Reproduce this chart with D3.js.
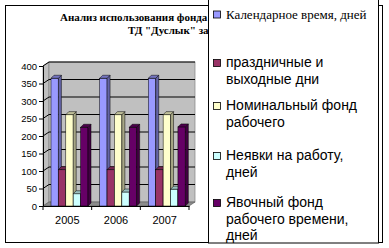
<!doctype html>
<html>
<head>
<meta charset="UTF-8">
<title>chart</title>
<script src="https://d3js.org/d3.v7.min.js"></script>
<style>
  body { margin: 0; background: #fff; }
  svg { display: block; }
</style>
</head>
<body>
<script>
// data
var years = ["2005", "2006", "2007"];
var calendar = [365, 365, 365];
var holidays = [104, 104, 104];
var nominal = [261, 261, 261];
var absent = [35, 40, 48];
var attendance = [225, 225, 226];
var yTicks = [0, 50, 100, 150, 200, 250, 300, 350, 400];

var seriesValues = [calendar, holidays, nominal, absent, attendance];
var seriesColors = ["#9999ff", "#993366", "#ffffcc", "#ccffff", "#660066"];
// legend lines (wrapped like the original)
var legendLines = [["Календарное время, дней"],
                   ["праздничные и", "выходные дни"],
                   ["Номинальный фонд", "рабочего"],
                   ["Неявки на работу,", "дней"],
                   ["Явочный фонд", "рабочего времени,", "дней"]];
// visible part of the title (the rest is hidden behind the legend)
var titleLines = ["Анализ использования фонда", "ТД \"Дуслык\" за"];

var W = 389, H = 248;
var svg = d3.select("body").append("svg").attr("width", W).attr("height", H);

svg.append("clipPath").attr("id", "titleClip")
  .append("rect").attr("x", 0).attr("y", 0).attr("width", 208).attr("height", 60);

// outer chart frame
svg.append("rect").attr("x", 5.5).attr("y", 5.5).attr("width", 377).attr("height", 237)
   .attr("fill", "#fff").attr("stroke", "#000");

// title
var tg = svg.append("g").attr("clip-path", "url(#titleClip)")
  .attr("font-family", "Liberation Serif").attr("font-weight", "bold").attr("font-size", 11);
tg.append("text").attr("x", 60).attr("y", 21).text(titleLines[0]);
tg.append("text").attr("x", 128).attr("y", 34).text(titleLines[1]);

var y = d3.scaleLinear().domain([0, 400]).range([206, 66]);
var x0 = d3.scaleBand().domain(years).range([43, 189]);
var x1 = d3.scaleBand().domain(d3.range(seriesValues.length)).range([8, 45]);

var dx = 6, dy = -4;     // wall depth
var bdx = 3, bdy = -3;   // bar depth
var left = x0.range()[0], right = x0.range()[1];
var y0 = y(0), yTop = y(400);

var g = svg.append("g");

// left wall
g.append("polygon")
  .attr("points", [[left, y0], [left + dx, y0 + dy], [left + dx, yTop + dy], [left, yTop]].join(" "))
  .attr("fill", "#c0c0c0").attr("stroke", "#808080").attr("stroke-width", 0.7);
// back wall
g.append("rect").attr("x", left + dx).attr("y", yTop + dy)
  .attr("width", right - left).attr("height", y0 - yTop)
  .attr("fill", "#c0c0c0").attr("stroke", "#808080").attr("stroke-width", 0.7);
// floor
g.append("polygon")
  .attr("points", [[left, y0], [right, y0], [right + dx, y0 + dy], [left + dx, y0 + dy]].join(" "))
  .attr("fill", "#8c8c8c").attr("stroke", "#606060").attr("stroke-width", 0.7);

// gridlines
yTicks.forEach(function(t) {
  if (t === 0) return;
  var yy = y(t);
  g.append("polyline")
    .attr("points", [[left, yy], [left + dx, yy + dy], [right + dx, yy + dy]].join(" "))
    .attr("fill", "none").attr("stroke", "#000").attr("stroke-width", 1);
});

// bars
years.forEach(function(yr, i) {
  seriesValues.forEach(function(vals, s) {
    var c = d3.color(seriesColors[s]);
    var bx = x0(yr) + x1(s), bw = x1.bandwidth(), by = y(vals[i]), bb = y0;
    // front
    g.append("rect").attr("x", bx).attr("y", by).attr("width", bw).attr("height", bb - by)
      .attr("fill", c).attr("stroke", "#000").attr("stroke-width", 0.5);
    // side
    g.append("polygon")
      .attr("points", [[bx + bw, bb], [bx + bw + bdx, bb + bdy], [bx + bw + bdx, by + bdy], [bx + bw, by]].join(" "))
      .attr("fill", c.darker(1.2)).attr("stroke", "#000").attr("stroke-width", 0.5);
    // top
    g.append("polygon")
      .attr("points", [[bx, by], [bx + bdx, by + bdy], [bx + bw + bdx, by + bdy], [bx + bw, by]].join(" "))
      .attr("fill", c.darker(0.8)).attr("stroke", "#000").attr("stroke-width", 0.5);
  });
});

// y axis
var yAxis = d3.axisLeft(y).tickValues(yTicks).tickSize(4).tickPadding(2);
svg.append("g").attr("transform", "translate(" + left + ",0)").call(yAxis)
  .call(function(a) {
    a.select(".domain").attr("stroke", "#000");
    a.selectAll("text").attr("font-family", "Liberation Sans").attr("font-size", 9.5).attr("fill", "#000");
  });

// x axis
var xAxis = d3.axisBottom(x0).tickSize(0).tickPadding(10);
svg.append("g").attr("transform", "translate(0," + y0 + ")").call(xAxis)
  .call(function(a) {
    a.select(".domain").attr("stroke", "#000");
    a.selectAll("text").attr("font-family", "Liberation Sans").attr("font-size", 11).attr("fill", "#000");
  });
// category separators on x axis
svg.append("g").selectAll("line")
  .data(years.concat(["end"]))
  .join("line")
  .attr("x1", function(d, i) { return left + i * x0.bandwidth(); })
  .attr("x2", function(d, i) { return left + i * x0.bandwidth(); })
  .attr("y1", y0).attr("y2", y0 + 4)
  .attr("stroke", "#000");

// legend
var lg = svg.append("g");
lg.append("rect").attr("x", 208.5).attr("y", -1).attr("width", 170).attr("height", 244)
  .attr("fill", "#fff").attr("stroke", "#000");
var itemY = [19, 67, 110, 160, 207];
var lineH = 16.5;
legendLines.forEach(function(lines, s) {
  var first = s === 0;
  lg.append("rect").attr("x", 213.5).attr("y", itemY[s] - (first ? 8 : 7.5))
    .attr("width", 7).attr("height", 7)
    .attr("fill", seriesColors[s]).attr("stroke", "#000").attr("stroke-width", 0.8);
  var t = lg.append("text")
    .attr("font-family", first ? "Liberation Serif" : "Liberation Sans")
    .attr("font-size", first ? 13 : 14).attr("fill", "#000");
  lines.forEach(function(l, k) {
    t.append("tspan").attr("x", 226).attr("y", itemY[s] + k * lineH).text(l);
  });
});
</script>
</body>
</html>
